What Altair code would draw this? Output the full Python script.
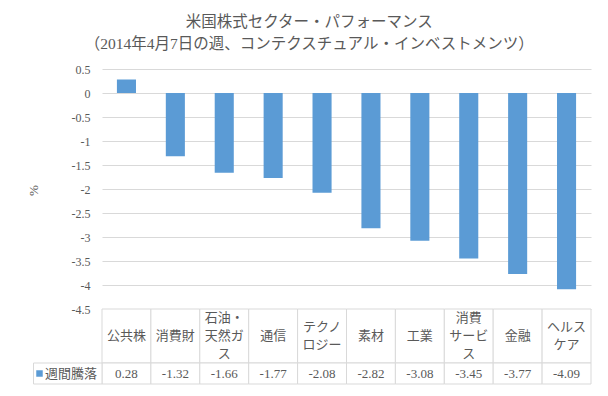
import altair as alt
import pandas as pd

# ---- data ----
title_lines = ["米国株式セクター・パフォーマンス",
               "（2014年4月7日の週、コンテクスチュアル・インベストメンツ）"]
series_name = "週間騰落"
sectors = ["公共株", "消費財", "石油・\n天然ガ\nス", "通信", "テクノ\nロジー",
           "素材", "工業", "消費\nサービ\nス", "金融", "ヘルス\nケア"]
weekly_change = [0.28, -1.32, -1.66, -1.77, -2.08, -2.82, -3.08, -3.45, -3.77, -4.09]
y_ticks = [0.5, 0, -0.5, -1, -1.5, -2, -2.5, -3, -3.5, -4, -4.5]
y_title = "%"

df = pd.DataFrame({
    "sector": sectors,
    "value": weekly_change,
    "label": [f"{v:.2f}" for v in weekly_change],
    "nlines": [s.count("\n") + 1 for s in sectors],
})
legend_df = pd.DataFrame({"series": [series_name]})

# ---- style ----
FONT = "Liberation Serif, Noto Sans CJK JP, sans-serif"
BLUE = "#5B9BD5"
GRID = "#D9D9D9"
TEXT = "#595959"
W = 489
HEADER_H = 54
LINE_H = 18

X = alt.X("sector:N", sort=sectors,
          scale=alt.Scale(type="band", domain=sectors, paddingInner=0, paddingOuter=0),
          axis=None)

bars = alt.Chart(df).mark_bar(color=BLUE, width=alt.RelativeBandSize(0.39)).encode(
    x=X,
    y=alt.Y("value:Q",
            scale=alt.Scale(domain=[-4.5, 0.5], nice=False, zero=False),
            axis=alt.Axis(values=y_ticks, labelExpr="datum.value + ''",
                          title=y_title, grid=True, gridColor=GRID, gridWidth=1,
                          domain=False, ticks=False, labelPadding=12,
                          labelFontSize=12, labelColor=TEXT, labelFont=FONT,
                          titleFontSize=13, titleColor=TEXT, titleFontWeight="normal",
                          titleFont=FONT, titleX=-69, titleY=121,
                          titleAlign="center", titleBaseline="middle")),
).properties(width=W, height=240)

cells = alt.Chart(df).mark_rect(fill="white", stroke=GRID, strokeWidth=1).encode(x=X)

header = alt.layer(
    cells,
    alt.Chart(df).transform_calculate(
        ty=f"{HEADER_H / 2} - (datum.nlines - 1) * {LINE_H / 2}"
    ).mark_text(lineBreak="\n", fontSize=13, color=TEXT, lineHeight=LINE_H,
                baseline="middle", font=FONT).encode(
        x=X, y=alt.Y("ty:Q", scale=None), text="sector:N"),
).properties(width=W, height=HEADER_H)

values_row = alt.layer(
    cells,
    alt.Chart(df).mark_text(fontSize=13, color=TEXT, baseline="middle", font=FONT).encode(
        x=X, y=alt.value(11), text="label:N"),
    alt.Chart(legend_df).mark_rect(fill="white", stroke=GRID, strokeWidth=1).encode(
        x=alt.value(-68.5), x2=alt.value(0)),
    alt.Chart(legend_df).mark_square(size=42, color=BLUE, opacity=1).encode(
        x=alt.value(-62.5), y=alt.value(10.5)),
    alt.Chart(legend_df).mark_text(align="left", baseline="middle", fontSize=13,
                                   color=TEXT, font=FONT).encode(
        x=alt.value(-57), y=alt.value(11), text="series:N"),
).properties(width=W, height=21)

chart = alt.vconcat(bars, header, values_row, spacing=0, bounds="flush").properties(
    title=alt.Title(title_lines, anchor="middle", fontSize=15.5, fontWeight="normal",
                    color=TEXT, font=FONT, lineHeight=22, offset=11),
    padding={"left": 19, "top": 6, "right": 5, "bottom": 5},
    background="white",
).configure_view(stroke=None)

chart.save("out.html", embed_options={"renderer": "svg", "actions": False})
